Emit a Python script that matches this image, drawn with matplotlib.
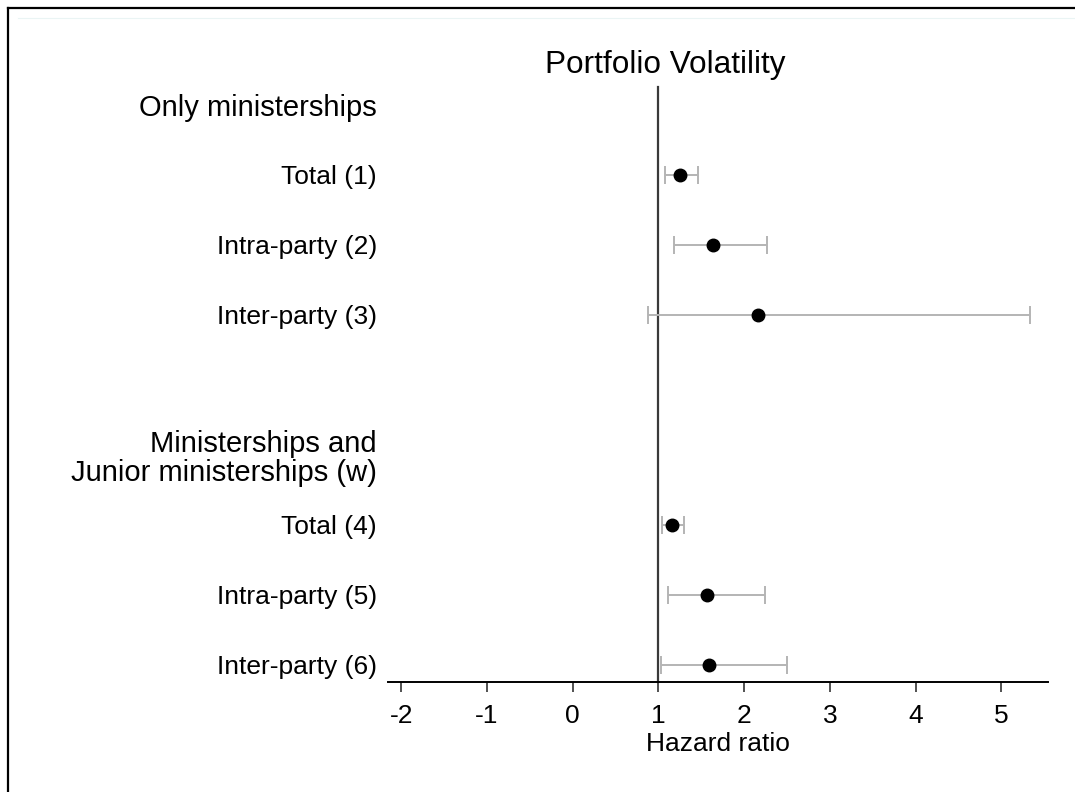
import matplotlib
matplotlib.use("Agg")
import matplotlib.pyplot as plt
from matplotlib.lines import Line2D

plt.rcParams['font.family'] = ['Liberation Sans', 'DejaVu Sans']

title = "Portfolio Volatility"
xlabel = "Hazard ratio"
groups = ["Only ministerships", "Ministerships and\nJunior ministerships (w)"]
labels_g1 = ["Total (1)", "Intra-party (2)", "Inter-party (3)"]
labels_g2 = ["Total (4)", "Intra-party (5)", "Inter-party (6)"]
est_g1 = [1.25, 1.635, 2.165]
lo_g1 = [1.08, 1.18, 0.88]
hi_g1 = [1.46, 2.265, 5.33]
est_g2 = [1.16, 1.57, 1.595]
lo_g2 = [1.04, 1.11, 1.035]
hi_g2 = [1.30, 2.245, 2.495]
xticks = [-2, -1, 0, 1, 2, 3, 4, 5]
ref_x = 1

W, H = 1075, 792
fig = plt.figure(figsize=(W / 100, H / 100), dpi=100)
ax = fig.add_axes([388 / W, 1 - 682 / H, (1048 - 388) / W, (682 - 87) / H])

# build slot positions: header, rows, gap, header, rows
pos = 0
tick_pos, tick_lab, is_header = [], [], []
rows = []
for gi, (g, labs, e, lo, hi) in enumerate(zip(groups, [labels_g1, labels_g2],
                                              [est_g1, est_g2], [lo_g1, lo_g2], [hi_g1, hi_g2])):
    if gi > 0:
        pos += 1  # blank gap slot
    tick_pos.append(pos); tick_lab.append(g); is_header.append(True)
    pos += 1
    for l, ee, l0, h0 in zip(labs, e, lo, hi):
        tick_pos.append(pos); tick_lab.append(l); is_header.append(False)
        rows.append((pos, ee, l0, h0))
        pos += 1

ys = [r[0] for r in rows]
es = [r[1] for r in rows]
xerr = [[r[1] - r[2] for r in rows], [r[3] - r[1] for r in rows]]

ax.axvline(ref_x, color='#3a3a3a', lw=1.6, zorder=1, clip_on=False, ymin=0, ymax=1)
ax.errorbar(es, ys, xerr=xerr, fmt='none', ecolor='#b4b4b4', elinewidth=1.4,
            capsize=6.7, capthick=1.4, zorder=2)
ax.plot(es, ys, 'o', color='black', markersize=9, zorder=3)

ax.set_xlim(-2.155, 5.545)
ax.set_ylim(pos - 1 + 0.243, -0.257)
ax.set_xticks(xticks)
ax.set_xticklabels([str(t) for t in xticks], fontsize=19)
ax.set_yticks(tick_pos)
ax.set_yticklabels(tick_lab)
for t, h in zip(ax.get_yticklabels(), is_header):
    if h:
        t.set_fontsize(21)
        t.set_linespacing(1.05)
    else:
        t.set_fontsize(19)
ax.tick_params(axis='y', length=0, pad=8)
ax.tick_params(axis='x', length=7.5, width=1.2, color='#333333', pad=8)
for s in ['left', 'right', 'top']:
    ax.spines[s].set_visible(False)
ax.spines['bottom'].set_linewidth(1.4)
ax.spines['bottom'].set_color('black')
ax.set_xlabel(xlabel, fontsize=19, labelpad=3)

fig.text(665.7 / W, 1 - 65 / H, title, fontsize=22.7, ha='center', va='center')

# outer frame (top and left edges visible)
fig.add_artist(Line2D([8 / W, 1.0], [1 - 8 / H, 1 - 8 / H], color='black', lw=1.6,
                      transform=fig.transFigure))
fig.add_artist(Line2D([8 / W, 8 / W], [0.0, 1 - 8 / H], color='black', lw=1.6,
                      transform=fig.transFigure))
fig.add_artist(Line2D([18 / W, 1074 / W], [1 - 18 / H, 1 - 18 / H], color='#eaf4f4', lw=0.8,
                      transform=fig.transFigure))

fig.savefig("out.png", dpi=100)
